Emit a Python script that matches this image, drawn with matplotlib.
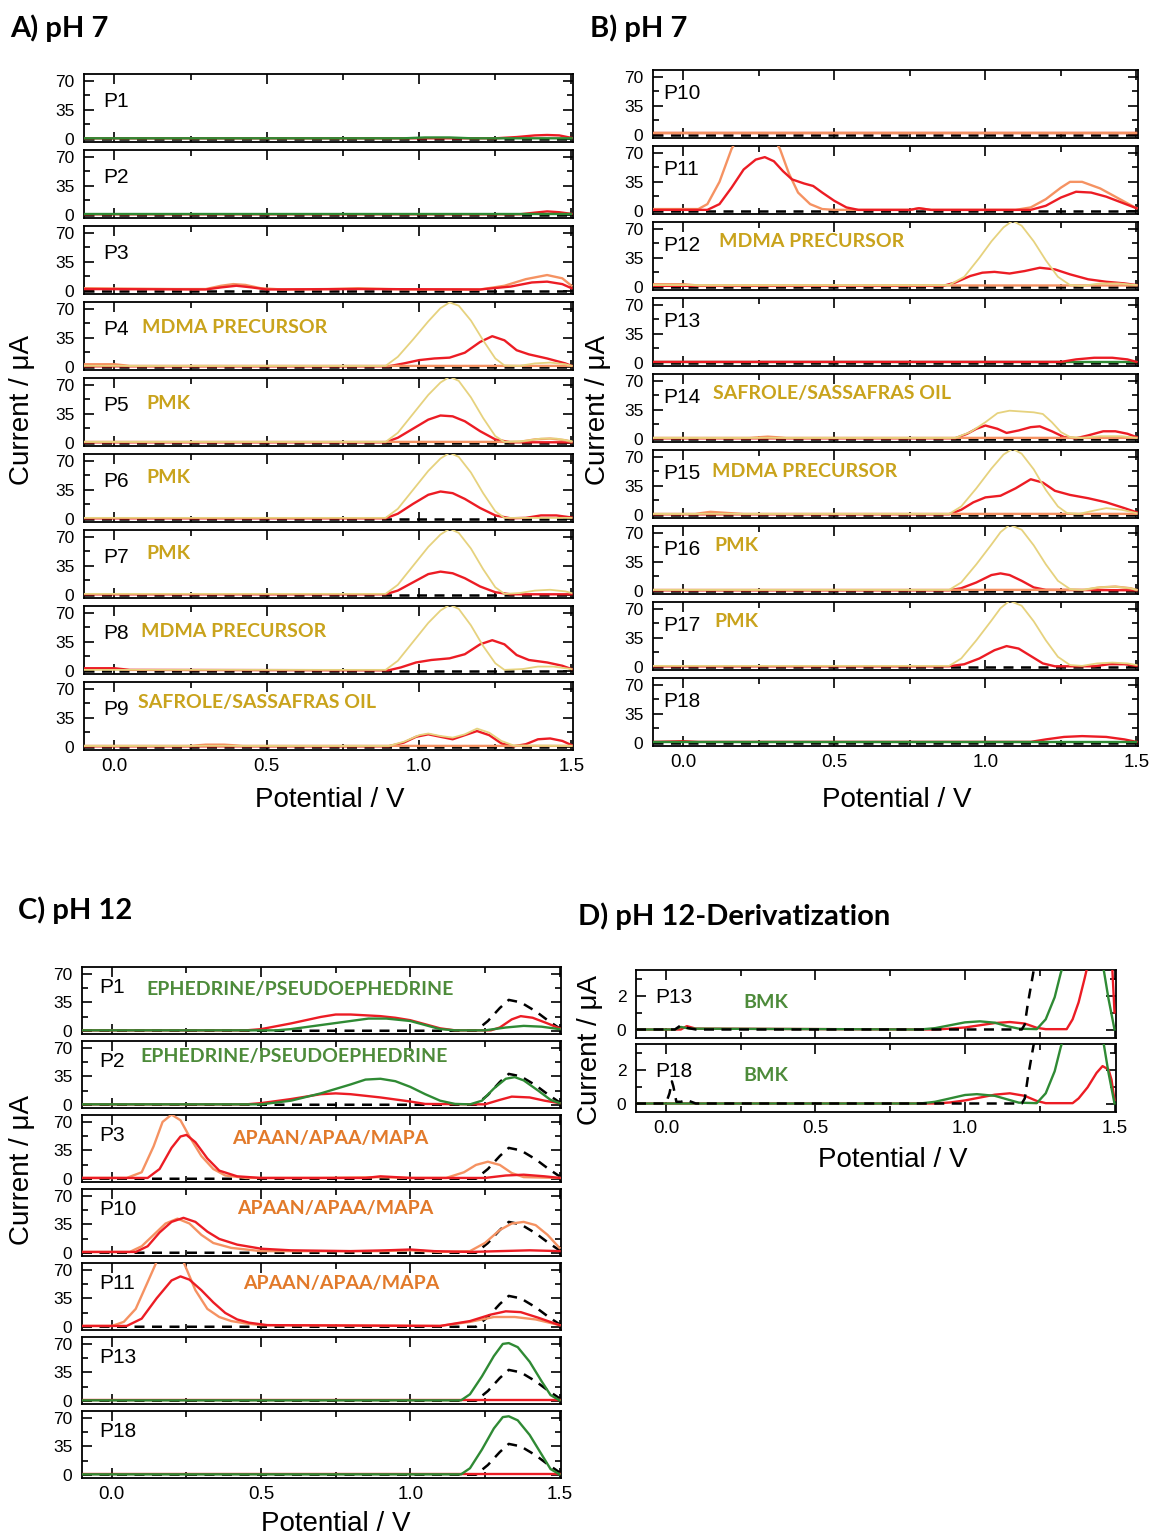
import matplotlib.pyplot as plt

plt.rcParams["font.family"] = ["Liberation Sans", "DejaVu Sans"]

W, H = 1153, 1537

GREEN = "#2f8a34"
RED = "#ec1c24"
ORANGE = "#f59262"
YELLOW = "#e6d27e"
GOLD = "#c9a31c"
GREEN_TXT = "#4d8b3a"
ORANGE_TXT = "#e27a2a"

# ---------------- data: (potential / V, current / uA)
BLANK = [(-0.1, 0), (1.5, 0)]
FLAT = [(-0.1, 0.6), (1.5, 0.6)]

# A) pH 7
A1_RED = [(-0.1, 0.5), (1.25, 0.5), (1.32, 2), (1.38, 4), (1.42, 4.5), (1.46, 4), (1.5, 1)]
A1_GREEN = [(-0.1, 0.5), (0.95, 0.5), (1.02, 1.5), (1.1, 1.5), (1.17, 0.5), (1.5, 0.5)]
A2_RED = [(-0.1, 0.5), (1.33, 0.5), (1.38, 2.5), (1.42, 4), (1.46, 3), (1.5, 1)]
A3_ORANGE = [(-0.1, 3), (0.2, 2), (0.3, 2), (0.35, 6), (0.39, 8), (0.43, 7), (0.48, 3), (0.55, 1.5),
             (0.7, 2), (0.8, 3), (0.9, 2), (1.0, 1.5), (1.2, 1.5), (1.28, 6), (1.35, 14), (1.42, 19),
             (1.47, 15), (1.5, 6)]
A3_RED = [(-0.1, 2), (0.3, 1.5), (0.35, 4), (0.4, 6), (0.45, 4), (0.5, 1.5), (0.8, 2), (1.2, 1.5),
          (1.3, 5), (1.37, 10), (1.42, 11), (1.47, 8), (1.5, 3)]
A4_ORANGE = [(-0.1, 3), (0.0, 3), (0.05, 1), (1.5, 1)]
A4_YELLOW = [(-0.1, 1), (0.89, 1), (0.93, 12), (0.98, 33), (1.03, 55), (1.07, 71), (1.1, 78), (1.13, 74),
             (1.17, 56), (1.21, 32), (1.25, 10), (1.28, 1.5), (1.33, 1), (1.38, 4), (1.43, 5), (1.48, 3),
             (1.5, 1)]
A4_RED = [(-0.1, 0.5), (0.9, 0.5), (0.95, 4), (1.0, 8), (1.05, 10), (1.1, 11), (1.15, 17), (1.2, 30),
          (1.24, 37), (1.28, 32), (1.32, 20), (1.36, 15), (1.42, 10), (1.48, 4), (1.5, 1)]
A5_ORANGE = [(-0.1, 1), (1.33, 1), (1.38, 4), (1.43, 5), (1.48, 3), (1.5, 1)]
A5_YELLOW = [(-0.1, 1), (0.89, 1), (0.93, 12), (0.98, 35), (1.03, 58), (1.07, 73), (1.1, 80), (1.13, 75),
             (1.17, 55), (1.21, 30), (1.25, 8), (1.28, 1), (1.34, 2), (1.4, 5), (1.45, 5), (1.5, 2)]
A5_RED = [(-0.1, 0.5), (0.89, 0.5), (0.93, 6), (0.98, 17), (1.03, 28), (1.07, 33), (1.11, 32),
          (1.15, 26), (1.2, 14), (1.25, 4), (1.3, 0.5), (1.5, 0.5)]
A6_YELLOW = [(-0.1, 1), (0.89, 1), (0.93, 12), (0.98, 35), (1.03, 58), (1.07, 73), (1.1, 80), (1.13, 75),
             (1.17, 56), (1.21, 31), (1.25, 9), (1.28, 1), (1.5, 1)]
A6_RED = [(-0.1, 0.5), (0.89, 0.5), (0.93, 6), (0.98, 18), (1.03, 29), (1.07, 33), (1.11, 31),
          (1.15, 24), (1.2, 13), (1.25, 4), (1.3, 0.5), (1.35, 1), (1.4, 4), (1.45, 4), (1.5, 1.5)]
A7_YELLOW = [(-0.1, 1), (0.89, 1), (0.93, 12), (0.98, 35), (1.03, 58), (1.07, 73), (1.1, 80), (1.13, 75),
             (1.17, 56), (1.21, 31), (1.25, 9), (1.28, 1), (1.33, 2), (1.38, 5), (1.43, 6), (1.48, 4),
             (1.5, 2)]
A7_RED = [(-0.1, 0.5), (0.89, 0.5), (0.93, 5), (0.98, 15), (1.03, 25), (1.07, 28), (1.11, 26),
          (1.15, 20), (1.2, 10), (1.25, 3), (1.3, 0.5), (1.5, 0.5)]
A8_YELLOW = [(-0.1, 1), (0.89, 1), (0.93, 12), (0.98, 35), (1.03, 58), (1.07, 73), (1.1, 80), (1.13, 75),
             (1.17, 55), (1.21, 30), (1.25, 9), (1.28, 1), (1.34, 2), (1.39, 5), (1.44, 5), (1.5, 2)]
A8_RED = [(-0.1, 3), (0.0, 3), (0.05, 1), (0.9, 0.5), (0.94, 4), (0.99, 10), (1.04, 13), (1.1, 15),
          (1.15, 20), (1.2, 32), (1.24, 37), (1.28, 32), (1.32, 19), (1.36, 13), (1.42, 10),
          (1.47, 6), (1.5, 2)]
A9_ORANGE = [(-0.1, 1), (0.25, 1), (0.3, 2.5), (0.36, 2.5), (0.42, 1), (1.5, 1)]
A9_YELLOW = [(-0.1, 1), (0.9, 1), (0.95, 6), (1.0, 14), (1.03, 16), (1.07, 13), (1.11, 11), (1.15, 15),
             (1.19, 22), (1.23, 17), (1.27, 7), (1.31, 1.5), (1.5, 1)]
A9_RED = [(-0.1, 0.5), (0.9, 0.5), (0.95, 5), (0.99, 12), (1.03, 15), (1.07, 12), (1.11, 9), (1.15, 14),
          (1.19, 19), (1.23, 14), (1.27, 4), (1.31, 0.5), (1.35, 3), (1.39, 9), (1.43, 10), (1.47, 7),
          (1.5, 2)]

# B) pH 7
B10_RED = [(-0.1, 1.5), (1.5, 1.5)]
B10_ORANGE = [(-0.1, 2.5), (1.5, 2.5)]
B11_ORANGE = [(-0.1, 2), (0.05, 2), (0.08, 8), (0.12, 35), (0.16, 75), (0.2, 100), (0.28, 100),
              (0.32, 75), (0.35, 45), (0.38, 22), (0.42, 8), (0.46, 2), (0.5, 1), (0.75, 1), (0.78, 3),
              (0.82, 1), (1.1, 1), (1.15, 4), (1.2, 14), (1.25, 28), (1.28, 35), (1.32, 35), (1.38, 27),
              (1.44, 15), (1.5, 3)]
B11_RED = [(-0.1, 1), (0.08, 1), (0.12, 8), (0.16, 28), (0.2, 50), (0.24, 62), (0.27, 65), (0.3, 60),
           (0.33, 48), (0.36, 38), (0.4, 33), (0.43, 30), (0.46, 22), (0.5, 12), (0.54, 4), (0.58, 1),
           (0.75, 1), (0.78, 3), (0.82, 1), (1.15, 1), (1.2, 6), (1.25, 16), (1.3, 23), (1.35, 22),
           (1.4, 17), (1.45, 10), (1.5, 3)]
B12_ORANGE = [(-0.1, 3), (0.0, 3), (0.05, 1.5), (1.5, 1.5)]
B12_YELLOW = [(-0.1, 2), (0.88, 2), (0.93, 12), (0.98, 35), (1.02, 55), (1.06, 72), (1.09, 80), (1.12, 74),
              (1.16, 55), (1.2, 32), (1.24, 12), (1.28, 2), (1.32, 1), (1.38, 4), (1.44, 4), (1.5, 2)]
B12_RED = [(-0.1, 1), (0.86, 1), (0.9, 5), (0.95, 13), (0.99, 17), (1.03, 18), (1.08, 16), (1.13, 19),
           (1.18, 23), (1.23, 21), (1.28, 15), (1.34, 9), (1.4, 6), (1.46, 4), (1.5, 2)]
B13_RED = [(-0.1, 1), (1.25, 1), (1.3, 4), (1.36, 6), (1.42, 6), (1.47, 4), (1.5, 1)]
B14_ORANGE = [(-0.1, 1), (0.22, 1), (0.28, 2.5), (0.34, 1), (1.5, 1)]
B14_YELLOW = [(-0.1, 1), (0.9, 1), (0.95, 8), (1.0, 20), (1.04, 31), (1.08, 34), (1.12, 33), (1.16, 32),
              (1.19, 30), (1.22, 20), (1.25, 8), (1.28, 2), (1.32, 1), (1.38, 3), (1.45, 3), (1.5, 1)]
B14_RED = [(-0.1, 0.5), (0.9, 0.5), (0.94, 6), (0.97, 12), (1.0, 16), (1.04, 12), (1.07, 7), (1.11, 10),
           (1.15, 14), (1.18, 15), (1.22, 9), (1.26, 2), (1.3, 0.5), (1.34, 4), (1.39, 9), (1.43, 9),
           (1.47, 6), (1.5, 2)]
B15_ORANGE = [(-0.1, 1), (0.04, 1), (0.09, 3.5), (0.15, 2), (0.2, 1), (1.5, 1)]
B15_YELLOW = [(-0.1, 1), (0.88, 1), (0.92, 10), (0.97, 32), (1.02, 56), (1.06, 73), (1.09, 80), (1.12, 74),
              (1.16, 55), (1.2, 30), (1.24, 10), (1.27, 2), (1.31, 1), (1.36, 5), (1.4, 8), (1.45, 6),
              (1.5, 2)]
B15_RED = [(-0.1, 0.5), (0.88, 0.5), (0.92, 6), (0.96, 15), (1.0, 21), (1.05, 23), (1.1, 32), (1.15, 43),
           (1.19, 39), (1.23, 29), (1.28, 24), (1.34, 20), (1.4, 15), (1.46, 8), (1.5, 3)]
B16_ORANGE = [(-0.1, 1), (1.33, 1), (1.38, 4), (1.43, 5), (1.48, 3), (1.5, 1)]
B16_YELLOW = [(-0.1, 1), (0.88, 1), (0.92, 10), (0.97, 32), (1.02, 56), (1.05, 71), (1.08, 80), (1.12, 74),
              (1.16, 55), (1.2, 32), (1.24, 12), (1.28, 2), (1.32, 1), (1.37, 4), (1.43, 5), (1.48, 3),
              (1.5, 1)]
B16_RED = [(-0.1, 0.5), (0.88, 0.5), (0.92, 3), (0.97, 10), (1.02, 19), (1.05, 21), (1.08, 19),
           (1.12, 12), (1.16, 4), (1.2, 1), (1.5, 0.5)]
B17_YELLOW = [(-0.1, 1), (0.88, 1), (0.92, 10), (0.97, 32), (1.02, 56), (1.05, 71), (1.08, 80), (1.12, 74),
              (1.16, 55), (1.2, 32), (1.24, 12), (1.28, 2), (1.32, 1), (1.37, 4), (1.42, 5), (1.47, 4),
              (1.5, 2)]
B17_RED = [(-0.1, 0.5), (0.88, 0.5), (0.93, 3), (0.98, 10), (1.03, 20), (1.07, 25), (1.11, 22),
           (1.15, 13), (1.19, 4), (1.23, 0.5), (1.36, 0.5), (1.41, 3), (1.46, 3), (1.5, 1)]
B18_RED = [(-0.1, 1), (0.0, 1.8), (0.05, 1), (1.15, 1), (1.2, 4), (1.26, 7), (1.32, 8), (1.4, 7),
           (1.46, 4), (1.5, 1)]

# C) pH 12
C_BLANK = [(-0.1, 0), (1.22, 0), (1.26, 12), (1.3, 28), (1.33, 38), (1.37, 35), (1.42, 24), (1.46, 13),
           (1.5, 3)]
C1_RED = [(-0.1, 0.5), (0.45, 0.5), (0.5, 2), (0.6, 9), (0.7, 17), (0.75, 20), (0.8, 20), (0.9, 18),
          (0.95, 16), (1.0, 13), (1.05, 8), (1.1, 3), (1.15, 0.5), (1.27, 0.5), (1.3, 4), (1.34, 14),
          (1.37, 18), (1.41, 16), (1.46, 9), (1.5, 3)]
C1_GREEN = [(-0.1, 0.5), (0.55, 0.5), (0.6, 2), (0.7, 7), (0.8, 12), (0.86, 15), (0.92, 15), (1.0, 12),
            (1.05, 7), (1.1, 2), (1.15, 0.5), (1.25, 0.5), (1.32, 4), (1.38, 6), (1.44, 5), (1.5, 2)]
C2_RED = [(-0.1, 0.5), (0.45, 0.5), (0.5, 2), (0.6, 7), (0.7, 13), (0.75, 14), (0.8, 13), (0.9, 9),
          (1.0, 4), (1.05, 1), (1.25, 0.5), (1.3, 6), (1.34, 10), (1.4, 9), (1.45, 5), (1.5, 2)]
C2_GREEN = [(-0.1, 0.5), (0.5, 0.5), (0.6, 5), (0.7, 14), (0.8, 25), (0.85, 31), (0.9, 32), (0.95, 29),
            (1.0, 22), (1.05, 13), (1.1, 5), (1.15, 1), (1.2, 0.5), (1.24, 5), (1.28, 20), (1.32, 32),
            (1.35, 34), (1.38, 30), (1.43, 17), (1.47, 6), (1.5, 2)]
C3_ORANGE = [(-0.1, 1), (0.05, 1), (0.1, 8), (0.14, 40), (0.17, 70), (0.2, 79), (0.23, 72), (0.26, 52),
             (0.3, 28), (0.34, 12), (0.38, 4), (0.45, 1), (0.7, 1), (0.9, 2), (1.0, 1), (1.12, 1),
             (1.18, 8), (1.22, 17), (1.26, 21), (1.3, 17), (1.34, 7), (1.38, 2), (1.5, 1)]
C3_RED = [(-0.1, 1), (0.12, 1), (0.16, 12), (0.2, 38), (0.23, 52), (0.25, 54), (0.28, 45), (0.32, 25),
          (0.36, 10), (0.42, 3), (0.5, 1), (0.85, 1), (0.9, 3), (0.95, 2), (1.0, 1), (1.25, 1),
          (1.32, 4), (1.38, 5), (1.45, 3), (1.5, 1)]
C10_ORANGE = [(-0.1, 1), (0.06, 1), (0.1, 8), (0.14, 22), (0.18, 36), (0.22, 42), (0.26, 36), (0.3, 22),
              (0.34, 12), (0.4, 6), (0.5, 2), (0.9, 2), (1.0, 3), (1.1, 1), (1.2, 2), (1.25, 12),
              (1.3, 28), (1.34, 36), (1.38, 38), (1.42, 34), (1.46, 22), (1.5, 6)]
C10_RED = [(-0.1, 1), (0.08, 1), (0.12, 8), (0.16, 25), (0.2, 38), (0.24, 43), (0.28, 38), (0.32, 26),
           (0.36, 17), (0.42, 10), (0.5, 5), (0.6, 3), (0.8, 2), (0.92, 3), (1.0, 4), (1.08, 2),
           (1.2, 1), (1.3, 2), (1.4, 3), (1.5, 2)]
C11_ORANGE = [(-0.1, 1), (0.0, 1), (0.04, 6), (0.08, 22), (0.12, 55), (0.15, 80), (0.2, 100), (0.24, 80),
              (0.28, 45), (0.32, 22), (0.36, 12), (0.4, 7), (0.45, 4), (0.5, 2), (1.1, 1), (1.2, 6),
              (1.28, 12), (1.35, 12), (1.42, 9), (1.5, 2)]
C11_RED = [(-0.1, 1), (0.05, 1), (0.1, 10), (0.15, 35), (0.2, 57), (0.23, 62), (0.26, 58), (0.3, 45),
           (0.34, 30), (0.38, 17), (0.42, 9), (0.46, 5), (0.52, 2), (1.1, 1), (1.2, 7), (1.27, 15),
           (1.32, 19), (1.37, 18), (1.43, 11), (1.5, 2)]
C13_GREEN = [(-0.1, 0.5), (1.17, 0.5), (1.2, 8), (1.24, 30), (1.28, 55), (1.31, 70), (1.33, 71),
             (1.36, 66), (1.4, 48), (1.44, 24), (1.47, 7), (1.5, 0.5)]
C18_GREEN = [(-0.1, 0.5), (1.17, 0.5), (1.2, 8), (1.24, 31), (1.28, 57), (1.31, 71), (1.33, 72),
             (1.36, 67), (1.4, 49), (1.44, 25), (1.47, 7), (1.5, 0.5)]
C_RED_FLAT = [(-0.1, 0.5), (1.5, 0.5)]

# D) pH 12-Derivatization
D13_BLANK = [(-0.1, 0), (0.03, 0), (0.05, 0.25), (0.07, 0.1), (0.1, 0), (1.19, 0), (1.2, 0.3), (1.21, 1.5),
             (1.225, 3), (1.24, 4.5)]
D13_GREEN = [(-0.1, 0), (0.03, 0), (0.05, 0.15), (0.08, 0.05), (0.85, 0), (0.9, 0.08), (0.95, 0.25),
             (1.0, 0.42), (1.05, 0.48), (1.1, 0.4), (1.14, 0.2), (1.18, 0.05), (1.24, 0.02), (1.27, 0.6),
             (1.3, 1.9), (1.32, 3.3), (1.34, 4.5), (1.45, 4.5), (1.465, 3.4), (1.48, 1.8), (1.5, 0)]
D13_RED = [(-0.1, 0), (0.05, 0), (0.07, 0.2), (0.1, 0.05), (0.9, 0), (0.95, 0.05), (1.0, 0.12),
           (1.05, 0.25), (1.1, 0.38), (1.15, 0.44), (1.2, 0.35), (1.24, 0.1), (1.27, 0.02), (1.34, 0.02),
           (1.36, 0.6), (1.38, 1.6), (1.4, 3.0), (1.42, 4.5), (1.49, 4.5), (1.5, 1.0)]
D18_BLANK = [(-0.1, 0), (0.0, 0), (0.012, 0.6), (0.02, 1.3), (0.025, 1.0), (0.035, 0.1), (0.05, 0.1),
             (0.07, 0.2), (0.1, 0), (1.19, 0), (1.2, 0.3), (1.21, 1.5), (1.225, 3), (1.24, 4.5)]
D18_GREEN = [(-0.1, 0), (0.85, 0), (0.9, 0.1), (0.95, 0.3), (1.0, 0.5), (1.04, 0.55), (1.1, 0.45),
             (1.14, 0.25), (1.18, 0.05), (1.24, 0.02), (1.27, 0.6), (1.3, 1.9), (1.32, 3.3), (1.34, 4.5),
             (1.45, 4.5), (1.465, 3.4), (1.48, 1.8), (1.5, 0)]
D18_RED = [(-0.1, 0), (0.9, 0), (0.95, 0.06), (1.0, 0.18), (1.05, 0.35), (1.1, 0.52), (1.15, 0.6),
           (1.2, 0.45), (1.24, 0.15), (1.27, 0.02), (1.36, 0.02), (1.38, 0.3), (1.41, 0.95), (1.44, 1.8),
           (1.46, 2.2), (1.48, 2.0), (1.49, 1.4), (1.5, 0.2)]

A_NAMES = ["P1", "P2", "P3", "P4", "P5", "P6", "P7", "P8", "P9"]
A_NOTES = ["", "", "", "MDMA PRECURSOR", "PMK", "PMK", "PMK", "MDMA PRECURSOR", "SAFROLE/SASSAFRAS OIL"]
B_NAMES = ["P10", "P11", "P12", "P13", "P14", "P15", "P16", "P17", "P18"]
B_NOTES = ["", "", "MDMA PRECURSOR", "", "SAFROLE/SASSAFRAS OIL", "MDMA PRECURSOR", "PMK", "PMK", ""]
C_NAMES = ["P1", "P2", "P3", "P10", "P11", "P13", "P18"]
C_NOTES = ["EPHEDRINE/PSEUDOEPHEDRINE", "EPHEDRINE/PSEUDOEPHEDRINE", "APAAN/APAA/MAPA",
           "APAAN/APAA/MAPA", "APAAN/APAA/MAPA", "", ""]
D_NAMES = ["P13", "P18"]
D_NOTES = ["BMK", "BMK"]

# drawing order inside each panel: first in the list is drawn underneath
A_CURVES = [
    [(A1_RED, RED), (A1_GREEN, GREEN)],
    [(A2_RED, RED), (FLAT, GREEN)],
    [(A3_ORANGE, ORANGE), (A3_RED, RED)],
    [(A4_RED, RED), (A4_ORANGE, ORANGE), (A4_YELLOW, YELLOW)],
    [(A5_RED, RED), (A5_ORANGE, ORANGE), (A5_YELLOW, YELLOW)],
    [(A6_RED, RED), (A6_YELLOW, YELLOW)],
    [(A7_RED, RED), (A7_YELLOW, YELLOW)],
    [(A8_RED, RED), (A8_YELLOW, YELLOW)],
    [(A9_RED, RED), (A9_ORANGE, ORANGE), (A9_YELLOW, YELLOW)],
]
B_CURVES = [
    [(B10_RED, RED), (B10_ORANGE, ORANGE)],
    [(B11_ORANGE, ORANGE), (B11_RED, RED)],
    [(B12_RED, RED), (B12_ORANGE, ORANGE), (B12_YELLOW, YELLOW)],
    [(FLAT, GREEN), (B13_RED, RED)],
    [(B14_RED, RED), (B14_ORANGE, ORANGE), (B14_YELLOW, YELLOW)],
    [(B15_RED, RED), (B15_ORANGE, ORANGE), (B15_YELLOW, YELLOW)],
    [(B16_RED, RED), (B16_ORANGE, ORANGE), (B16_YELLOW, YELLOW)],
    [(B17_RED, RED), (B17_YELLOW, YELLOW)],
    [(B18_RED, RED), (FLAT, GREEN)],
]
C_CURVES = [
    [(C1_RED, RED), (C1_GREEN, GREEN)],
    [(C2_RED, RED), (C2_GREEN, GREEN)],
    [(C3_ORANGE, ORANGE), (C3_RED, RED)],
    [(C10_ORANGE, ORANGE), (C10_RED, RED)],
    [(C11_ORANGE, ORANGE), (C11_RED, RED)],
    [(C_RED_FLAT, RED), (C13_GREEN, GREEN)],
    [(C_RED_FLAT, RED), (C18_GREEN, GREEN)],
]
D_CURVES = [
    [(D13_RED, RED), (D13_GREEN, GREEN)],
    [(D18_RED, RED), (D18_GREEN, GREEN)],
]
A_BLANKS = [BLANK] * 9
B_BLANKS = [BLANK] * 9
C_BLANKS = [C_BLANK] * 7
D_BLANKS = [D13_BLANK, D18_BLANK]

# ---------------- layout (pixels of the 1153x1537 canvas)
XLIM = (-0.1, 1.505)
fig = plt.figure(figsize=(W / 100, H / 100), dpi=100)


def px_axes(x0, top, x1, bottom):
    return fig.add_axes([x0 / W, 1 - bottom / H, (x1 - x0) / W, (bottom - top) / H])


def draw_stack(x0, x1, top, step, height, names, curves, blanks, notes, note_col,
               label_pos, note_pos, ylim, yticks, yminor, blank_on_top=False):
    axes = []
    for i, name in enumerate(names):
        t = top + i * step
        ax = px_axes(x0, t, x1, t + height)
        bx, by = zip(*blanks[i])
        ax.plot(bx, by, color="black", lw=1.8, dashes=(4, 3), zorder=6 if blank_on_top else 1)
        for pts, col in curves[i]:
            xs, ys = zip(*pts)
            ax.plot(xs, ys, color=col, lw=1.3 if col == YELLOW else 1.7, zorder=3)
        ax.set_xlim(XLIM)
        ax.set_ylim(ylim)
        ax.set_xticks([0.0, 0.5, 1.0, 1.5])
        ax.set_xticks([0.25, 0.75, 1.25], minor=True)
        ax.set_yticks(yticks)
        ax.set_yticks(yminor, minor=True)
        ax.tick_params(which="both", direction="in", top=True, right=True, width=1.2)
        ax.tick_params(which="major", length=7)
        ax.tick_params(which="minor", length=4)
        ax.tick_params(axis="y", labelsize=12.5, pad=7)
        ax.tick_params(axis="x", labelsize=13.5, pad=6)
        ax.set_xticklabels(["0.0", "0.5", "1.0", "1.5"])
        if i < len(names) - 1:
            ax.tick_params(labelbottom=False)
        for s in ax.spines.values():
            s.set_linewidth(1.3)
        ax.text(label_pos[0], label_pos[1], name, transform=ax.transAxes, fontsize=15,
                ha="left", va="center")
        if notes[i]:
            nx, ny = note_pos[i]
            col = note_col[i] if isinstance(note_col, list) else note_col
            ax.text(nx, ny, notes[i], transform=ax.transAxes, fontsize=14, fontweight="bold",
                    family=["Lato", "DejaVu Sans"], color=col, ha="left", va="center")
        axes.append(ax)
    return axes


YL = (-4, 78.5)
YT = [0, 35, 70]
YM = [17.5, 52.5]

A_NOTE_POS = [None, None, None, (0.119, 0.63), (0.127, 0.63), (0.127, 0.65), (0.127, 0.66),
              (0.117, 0.63), (0.11, 0.7)]
draw_stack(84, 573, 74, 76, 68, A_NAMES, A_CURVES, A_BLANKS, A_NOTES, GOLD,
           (0.039, 0.6), A_NOTE_POS, YL, YT, YM)

B_NOTE_POS = [None, None, (0.136, 0.71), None, (0.124, 0.71), (0.122, 0.69), (0.126, 0.72),
              (0.126, 0.72), None]
draw_stack(653, 1138, 70, 76, 68, B_NAMES, B_CURVES, B_BLANKS, B_NOTES, GOLD,
           (0.022, 0.65), B_NOTE_POS, YL, YT, YM)

C_NOTE_POS = [(0.134, 0.67), (0.121, 0.77), (0.313, 0.65), (0.324, 0.71), (0.336, 0.7), None, None]
C_NOTE_COL = [GREEN_TXT, GREEN_TXT, ORANGE_TXT, ORANGE_TXT, ORANGE_TXT, GOLD, GOLD]
draw_stack(82, 561, 967, 74, 67, C_NAMES, C_CURVES, C_BLANKS, C_NOTES, C_NOTE_COL,
           (0.035, 0.7), C_NOTE_POS, YL, YT, YM)

D_NOTE_POS = [(0.223, 0.52), (0.223, 0.54)]
draw_stack(636, 1116, 970, 74, 68, D_NAMES, D_CURVES, D_BLANKS, D_NOTES, GREEN_TXT,
           (0.04, 0.6), D_NOTE_POS, (-0.5, 3.5), [0, 2], [1, 3], blank_on_top=True)

# titles and axis labels
TITLE_KW = dict(fontsize=21, fontweight="bold", family=["Lato", "DejaVu Sans"], va="center", ha="left")
fig.text(10 / W, 1 - 28 / H, "A) pH 7", **TITLE_KW)
fig.text(590 / W, 1 - 28 / H, "B) pH 7", **TITLE_KW)
fig.text(18 / W, 1 - 910 / H, "C) pH 12", **TITLE_KW)
fig.text(578 / W, 1 - 916 / H, "D) pH 12-Derivatization", **TITLE_KW)

LAB_KW = dict(fontsize=20, ha="center", va="center")
fig.text(330 / W, 1 - 800 / H, "Potential / V", **LAB_KW)
fig.text(897 / W, 1 - 800 / H, "Potential / V", **LAB_KW)
fig.text(336 / W, 1 - 1524 / H, "Potential / V", **LAB_KW)
fig.text(893 / W, 1 - 1160 / H, "Potential / V", **LAB_KW)
fig.text(22 / W, 1 - 410 / H, "Current / μA", rotation=90, **LAB_KW)
fig.text(598 / W, 1 - 410 / H, "Current / μA", rotation=90, **LAB_KW)
fig.text(22 / W, 1 - 1170 / H, "Current / μA", rotation=90, **LAB_KW)
fig.text(590 / W, 1 - 1050 / H, "Current / μA", rotation=90, **LAB_KW)

fig.savefig("out.png", dpi=100)
